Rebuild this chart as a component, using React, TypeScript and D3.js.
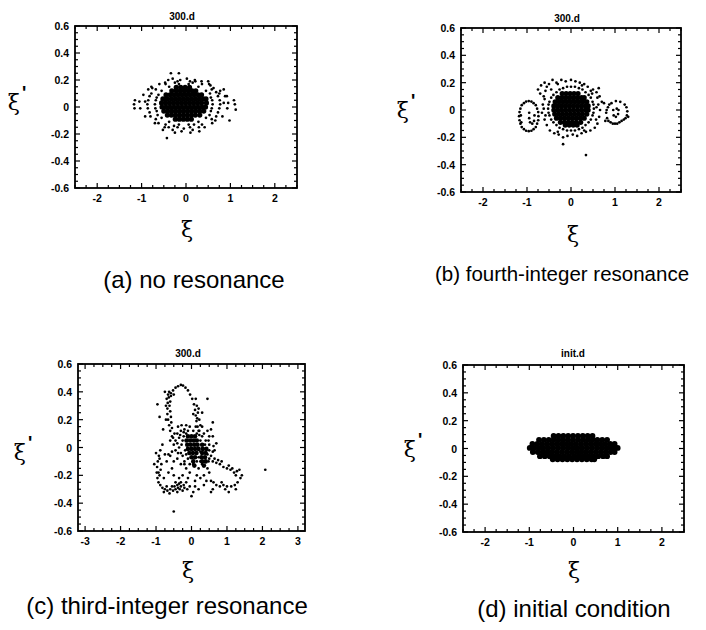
import * as d3 from "d3";

type Pt = [number, number];
type Row = [number, number[]];

// y axis (all panels)
const yMajor = [0.6, 0.4, 0.2, 0, -0.2, -0.4, -0.6];
const yTickLabels = ["0.6", "0.4", "0.2", "0", "-0.2", "-0.4", "-0.6"];
const xTicksWide = [-2, -1, 0, 1, 2];
const xTicksC = [-3, -2, -1, 0, 1, 2, 3];

const titles = ["300.d", "300.d", "300.d", "init.d"];
const captions = [
  "(a) no resonance",
  "(b) fourth-integer resonance",
  "(c) third-integer resonance",
  "(d) initial condition",
];

// (a) no resonance : dense core rows [y, xs] + ring / halo particles
const coreA: Row[] = [
  [0.145, [-0.22, -0.12, -0.02, 0.08]],
  [0.12, [-0.32, -0.22, -0.13, -0.04, 0.05, 0.14, 0.22]],
  [0.09, [-0.45, -0.36, -0.27, -0.18, -0.09, 0.0, 0.09, 0.18, 0.27, 0.35]],
  [0.06, [-0.52, -0.43, -0.33, -0.24, -0.15, -0.06, 0.03, 0.12, 0.21, 0.3, 0.39, 0.45]],
  [0.03, [-0.55, -0.46, -0.37, -0.28, -0.19, -0.1, -0.01, 0.08, 0.17, 0.26, 0.35, 0.46]],
  [0.0, [-0.54, -0.45, -0.36, -0.27, -0.18, -0.09, 0.0, 0.09, 0.18, 0.27, 0.36, 0.44]],
  [-0.03, [-0.5, -0.41, -0.32, -0.23, -0.14, -0.05, 0.04, 0.13, 0.22, 0.31, 0.4]],
  [-0.06, [-0.42, -0.33, -0.24, -0.15, -0.06, 0.03, 0.12, 0.21, 0.31]],
  [-0.09, [-0.24, -0.15, -0.06, 0.03, 0.12]],
];
const haloA: Pt[] = [
  [0.6, 0.02], [0.56, 0.07], [0.45, 0.12], [0.28, 0.15], [0.06, 0.17], [-0.16, 0.17], [-0.38, 0.15], [-0.55, 0.12],
  [-0.66, 0.07], [-0.7, 0.02], [-0.66, -0.03], [-0.55, -0.08], [-0.38, -0.11], [-0.16, -0.13], [0.06, -0.13],
  [0.28, -0.11], [0.45, -0.08], [0.56, -0.03], [0.59, 0.05], [-0.68, 0.05], [-0.69, -0.01], [0.58, -0.01],
  [0.77, 0.02], [0.72, 0.08], [0.58, 0.13], [0.36, 0.17], [0.09, 0.19], [-0.19, 0.19], [-0.46, 0.17], [-0.68, 0.13],
  [-0.82, 0.08], [-0.87, 0.02], [-0.82, -0.04], [-0.68, -0.09], [-0.46, -0.13], [-0.19, -0.15], [0.09, -0.15],
  [0.36, -0.13], [0.58, -0.09], [0.72, -0.04], [0.76, 0.05], [-0.85, 0.05], [-0.86, -0.01], [0.75, -0.01],
  [0.95, 0.03], [0.92, 0.08], [0.77, 0.12], [0.52, 0.17], [0.21, 0.19], [-0.13, 0.2], [-0.47, 0.18], [-0.76, 0.14],
  [-0.96, 0.09], [-1.05, 0.04], [-1.03, -0.01], [-0.92, -0.07], [-0.7, -0.12], [-0.39, -0.15], [-0.05, -0.16],
  [0.29, -0.15], [0.59, -0.12], [0.82, -0.07], [0.93, -0.01],
  [1.08, 0.05], [1.1, 0.02], [1.12, -0.02], [0.98, -0.1], [-1.17, 0.02], [-1.15, 0.05], [-1.16, -0.01],
  [-0.34, 0.25], [-0.16, 0.25], [-0.43, -0.23], [0.3, -0.18], [0.1, -0.19], [-0.25, -0.19], [0.55, 0.16],
  [0.75, 0.1], [0.85, 0.13], [-0.6, 0.17], [-0.85, 0.13], [0.02, 0.21], [-0.3, 0.21], [0.2, 0.2],
  [-0.62, -0.12], [-0.48, -0.15], [-0.3, -0.17], [-0.1, -0.18], [0.15, -0.17], [0.42, -0.15], [0.66, -0.1],
  [-0.78, 0.15], [-0.4, 0.2], [0.35, 0.19], [0.62, 0.14], [0.88, 0.08], [-0.52, -0.17], [0.5, 0.19],
  [-0.62, 0.09], [-0.64, -0.06], [0.54, 0.1], [0.53, -0.06], [-0.78, 0.1], [-0.8, -0.07], [0.68, 0.11],
  [0.68, -0.07], [-0.25, 0.18], [0.15, 0.18], [-0.27, -0.14], [0.18, -0.13], [-0.92, 0.04], [0.85, 0.03],
];

// (b) fourth-integer resonance
const coreB: Row[] = [
  [0.12, [-0.2, -0.11, -0.02, 0.07, 0.16]],
  [0.09, [-0.3, -0.21, -0.12, -0.03, 0.06, 0.15, 0.24, 0.3]],
  [0.06, [-0.36, -0.27, -0.18, -0.09, 0.0, 0.09, 0.18, 0.27, 0.36]],
  [0.03, [-0.39, -0.3, -0.21, -0.12, -0.03, 0.06, 0.15, 0.24, 0.33, 0.39]],
  [0.0, [-0.39, -0.3, -0.21, -0.12, -0.03, 0.06, 0.15, 0.24, 0.33, 0.39]],
  [-0.03, [-0.37, -0.28, -0.19, -0.1, -0.01, 0.08, 0.17, 0.26, 0.36]],
  [-0.06, [-0.33, -0.24, -0.15, -0.06, 0.03, 0.12, 0.21, 0.3]],
  [-0.09, [-0.24, -0.15, -0.06, 0.03, 0.12, 0.22]],
  [-0.11, [-0.13, -0.04, 0.05, 0.14]],
];
const haloB: Pt[] = [
  [0.52, 0.01], [0.49, 0.06], [0.4, 0.11], [0.26, 0.15], [0.09, 0.17], [-0.09, 0.17], [-0.26, 0.15], [-0.4, 0.11],
  [-0.49, 0.06], [-0.52, 0.01], [-0.49, -0.04], [-0.4, -0.09], [-0.26, -0.13], [-0.09, -0.15], [0.09, -0.15],
  [0.26, -0.13], [0.4, -0.09], [0.49, -0.04], [0.51, 0.04], [0.45, 0.09], [0.33, 0.13], [0.18, 0.16], [0.0, 0.17],
  [-0.18, 0.16], [-0.33, 0.13], [-0.45, 0.09], [-0.51, 0.04], [-0.51, -0.02], [-0.45, -0.07], [-0.33, -0.11],
  [-0.18, -0.14], [0.0, -0.15], [0.18, -0.14], [0.33, -0.11], [0.45, -0.07], [0.51, -0.02],
  [0.62, 0.04], [0.6, 0.09], [-0.6, 0.08], [-0.62, 0.01], [0.45, 0.14], [-0.45, 0.15],
  [-0.75, 0.15], [-0.68, 0.18], [-0.6, 0.2], [-0.5, 0.19], [-0.42, 0.22], [-0.33, 0.2], [-0.22, 0.22],
  [-0.12, 0.21], [0.0, 0.22], [0.1, 0.21], [0.2, 0.2], [0.3, 0.19], [0.38, 0.17], [0.5, 0.15], [0.58, 0.13],
  [0.65, 0.1], [0.7, 0.06], [-0.62, 0.1], [-0.64, 0.04], [-0.66, -0.02], [-0.6, -0.07], [-0.55, -0.11],
  [-0.48, -0.15], [-0.38, -0.17], [-0.28, -0.18], [-0.18, -0.2], [-0.08, -0.19], [0.04, -0.18], [0.14, -0.19],
  [0.24, -0.17], [0.34, -0.16], [0.44, -0.15], [0.54, -0.13], [0.6, -0.1], [0.64, -0.05], [0.66, 0.0],
  [-0.18, -0.25], [0.34, -0.33], [0.58, 0.02], [-0.58, 0.14], [0.63, 0.16], [-0.7, 0.12],
  [-0.55, 0.17], [-0.3, 0.19], [0.25, 0.18], [0.48, 0.12], [-0.58, -0.04], [0.57, -0.07], [-0.3, -0.16], [0.3, -0.15],
  // left island
  [-0.74, -0.045], [-0.77, 0.01], [-0.85, 0.05], [-0.96, 0.065], [-1.07, 0.05], [-1.15, 0.01], [-1.18, -0.045],
  [-1.15, -0.1], [-1.07, -0.14], [-0.96, -0.155], [-0.85, -0.14], [-0.77, -0.1], [-0.745, -0.015], [-0.8, 0.035],
  [-0.9, 0.062], [-1.02, 0.062], [-1.12, 0.035], [-1.17, -0.015], [-1.17, -0.075], [-1.12, -0.125],
  [-1.02, -0.152], [-0.9, -0.152], [-0.8, -0.125], [-0.745, -0.075], [-1.14, -0.04], [-1.13, -0.09],
  [-0.95, -0.02], [-0.95, -0.06], [-0.93, -0.09], [-0.88, -0.1], [-0.84, -0.08], [-0.83, -0.04],
  // right island
  [1.22, 0.04], [1.12, 0.06], [1.02, 0.065], [0.92, 0.05], [0.84, 0.02], [0.8, -0.02], [0.82, -0.06],
  [0.9, -0.09], [1.0, -0.1], [1.1, -0.09], [1.2, -0.07], [1.27, -0.04], [1.28, -0.01], [1.26, 0.02],
  [0.87, 0.04], [0.81, 0.0], [0.85, -0.08], [0.95, -0.1], [1.05, -0.1], [1.15, -0.08], [1.24, -0.06],
  [0.96, 0.0], [0.97, -0.04], [1.02, -0.05], [1.07, -0.03], [1.08, 0.0], [1.04, 0.01],
  [0.75, 0.05], [0.78, -0.08], [1.3, -0.05],
];

// (c) third-integer resonance
const coreC: Row[] = [
  [0.08, [-0.1, 0.0, 0.1]],
  [0.05, [-0.14, -0.04, 0.06, 0.15]],
  [0.02, [-0.12, -0.02, 0.08, 0.17, 0.3]],
  [-0.01, [-0.1, 0.0, 0.1, 0.2, 0.32, 0.42]],
  [-0.04, [-0.06, 0.04, 0.14, 0.3, 0.4]],
  [-0.07, [0.0, 0.1, 0.28, 0.38]],
  [-0.1, [0.05, 0.3, 0.4]],
  [-0.13, [0.08, 0.35]],
];
const haloC: Pt[] = [
  // upper loop
  [-0.55, 0.08], [-0.6, 0.12], [-0.63, 0.16], [-0.66, 0.2], [-0.68, 0.24], [-0.68, 0.28], [-0.67, 0.32],
  [-0.64, 0.36], [-0.58, 0.39], [-0.52, 0.41], [-0.45, 0.43], [-0.38, 0.44], [-0.3, 0.45], [-0.24, 0.445],
  [-0.17, 0.43], [-0.1, 0.41], [-0.04, 0.38], [0.02, 0.35], [0.07, 0.31], [0.1, 0.27], [0.12, 0.23],
  [0.14, 0.19], [0.17, 0.15], [0.2, 0.12], [0.22, 0.09], [-0.58, 0.37], [-0.6, 0.33], [-0.62, 0.3],
  [-0.6, 0.26], [-0.58, 0.22], [-0.57, 0.18], [-0.55, 0.14], [-0.63, 0.4], [-0.7, 0.35], [0.15, 0.3],
  [0.18, 0.25], [0.22, 0.2], [0.25, 0.16], [0.2, 0.28], [0.12, 0.35], [-0.96, 0.31], [0.6, 0.18],
  [0.45, 0.35], [-0.75, 0.4], [-0.9, 0.22], [-0.8, 0.13], [-0.72, 0.3], [-0.5, 0.38], [-0.66, 0.38],
  [0.05, 0.24], [0.16, 0.21], [-0.72, 0.2], [0.3, 0.25],
  // middle band
  [-0.4, 0.1], [-0.3, 0.12], [-0.2, 0.13], [-0.1, 0.12], [0.05, 0.12], [0.15, 0.1], [0.3, 0.08], [0.4, 0.05],
  [0.5, 0.02], [-0.45, 0.05], [-0.5, 0.02], [-0.45, -0.02], [-0.35, 0.0], [-0.3, -0.04], [-0.25, 0.05],
  [-0.35, 0.07], [0.5, -0.02], [0.55, -0.06], [0.6, -0.03], [0.25, 0.05], [0.35, 0.1],
  [-0.6, 0.05], [-0.55, -0.03], [-0.65, -0.05], [-0.48, 0.1], [-0.38, 0.15], [-0.28, 0.16], [-0.15, 0.16],
  [-0.05, 0.15], [0.3, 0.15], [0.45, 0.12], [0.6, 0.08], [0.7, 0.03], [0.65, -0.02], [-0.25, -0.06],
  [-0.18, -0.02], [-0.28, 0.02], [0.5, 0.08], [0.55, 0.13], [0.05, -0.12], [0.15, -0.1], [0.2, -0.07],
  [-0.1, -0.08], [-0.2, -0.12], [-0.22, 0.08], [0.25, -0.03], [-0.15, -0.05], [0.45, -0.05],
  [-0.4, 0.03], [-0.32, 0.09], [-0.22, 0.11], [0.22, 0.12], [0.38, 0.02], [0.48, 0.05], [-0.52, 0.07],
  [-0.38, -0.04], [0.62, 0.01], [-0.15, 0.1], [0.12, 0.15], [-0.05, -0.12], [0.25, -0.1], [0.48, -0.1],
  // lower-left lobe
  [-0.82, 0.02], [-0.88, -0.02], [-0.92, -0.06], [-0.95, -0.1], [-0.97, -0.14], [-0.98, -0.18], [-0.96, -0.22],
  [-0.93, -0.25], [-0.88, -0.27], [-0.85, -0.12], [-0.87, -0.16], [-0.9, -0.2], [-1.05, -0.12], [-1.0, -0.04],
  [-0.82, -0.29], [-0.75, -0.3], [-0.68, -0.31], [-0.6, -0.3], [-0.52, -0.31], [-0.45, -0.3], [-0.38, -0.29],
  [-0.3, -0.28], [-0.22, -0.27], [-0.7, -0.28], [-0.55, -0.28], [-0.4, -0.32], [-0.62, -0.33], [-0.25, -0.31],
  [-0.7, -0.1], [-0.6, -0.06], [-0.5, -0.1], [-0.4, -0.08], [-0.3, -0.12], [-0.2, -0.1], [-0.15, -0.15],
  [-0.25, -0.2], [-0.35, -0.22], [-0.5, -0.2], [-0.65, -0.18], [-0.75, -0.05], [-0.55, -0.15], [-0.45, -0.25],
  [-0.1, -0.22], [-0.05, -0.18], [-0.15, -0.25], [-0.78, -0.22], [-0.4, -0.27], [-0.3, -0.25], [-0.2, -0.29],
  [-0.35, -0.26], [-0.9, -0.08], [-0.93, -0.18], [-0.78, -0.32], [-0.48, -0.28], [-0.33, -0.3], [-0.12, -0.3],
  // lower-right lobe
  [0.5, -0.08], [0.6, -0.1], [0.7, -0.11], [0.8, -0.12], [0.9, -0.14], [1.0, -0.15], [1.1, -0.16], [1.2, -0.18],
  [1.28, -0.17], [1.35, -0.16], [1.42, -0.2], [0.65, -0.08], [0.85, -0.1], [1.15, -0.15], [1.38, -0.22],
  [1.3, -0.25], [1.22, -0.27], [1.12, -0.28], [1.0, -0.28], [0.9, -0.27], [0.8, -0.28], [0.7, -0.27],
  [0.62, -0.25], [0.55, -0.24], [1.25, -0.3], [0.95, -0.3], [1.05, -0.32], [0.85, -0.25], [0.45, -0.15],
  [0.35, -0.2], [0.25, -0.22], [0.15, -0.2], [0.3, -0.12], [0.4, -0.1], [0.2, -0.15], [0.5, -0.18],
  [0.1, -0.28], [0.2, -0.3], [0.35, -0.27], [0.05, -0.32], [0.0, -0.35], [-0.05, -0.28],
  [0.75, -0.09], [1.05, -0.13], [1.25, -0.2], [0.6, -0.3], [0.42, -0.24], [0.1, -0.24],
  // strays
  [2.08, -0.16], [-0.5, -0.46], [0.55, -0.32],
];

// (d) initial condition : filled ellipse of particles
const coreD: Row[] = [
  [0.09, [-0.45, -0.34, -0.23, -0.12, -0.01, 0.1, 0.21, 0.32, 0.43]],
  [0.062, [-0.78, -0.67, -0.56, -0.45, -0.34, -0.23, -0.12, -0.01, 0.1, 0.21, 0.32, 0.43, 0.54, 0.65, 0.76]],
  [0.033, [-0.93, -0.82, -0.71, -0.6, -0.49, -0.38, -0.27, -0.16, -0.05, 0.06, 0.17, 0.28, 0.39, 0.5, 0.61, 0.72, 0.83, 0.93]],
  [0.004, [-0.99, -0.9, -0.79, -0.68, -0.57, -0.46, -0.35, -0.24, -0.13, -0.02, 0.09, 0.2, 0.31, 0.42, 0.53, 0.64, 0.75, 0.86, 0.95, 1.0]],
  [-0.025, [-0.92, -0.81, -0.7, -0.59, -0.48, -0.37, -0.26, -0.15, -0.04, 0.07, 0.18, 0.29, 0.4, 0.51, 0.62, 0.73, 0.84, 0.93]],
  [-0.055, [-0.76, -0.65, -0.54, -0.43, -0.32, -0.21, -0.1, 0.01, 0.12, 0.23, 0.34, 0.45, 0.56, 0.67, 0.76]],
  [-0.078, [-0.47, -0.36, -0.25, -0.14, -0.03, 0.08, 0.19, 0.3, 0.41, 0.47]],
];
const haloD: Pt[] = [];

const rowsToPts = (rows: Row[]): Pt[] => rows.flatMap(([yv, xs]) => xs.map((xv) => [xv, yv] as Pt));

const layout = [
  { left: 75, right: 297, top: 26, bottom: 188, xDomain: [-2.5, 2.5], xTicks: xTicksWide, titleX: 182, titleY: 20,
    yLabX: 17, yLabY: 110, xLabX: 187, xLabY: 237, capX: 194, capY: 288, capSize: 24, coreR: 2.6, core: coreA, halo: haloA },
  { left: 461, right: 681, top: 28, bottom: 192, xDomain: [-2.5, 2.5], xTicks: xTicksWide, titleX: 567, titleY: 22,
    yLabX: 406, yLabY: 118, xLabX: 573, xLabY: 242, capX: 562, capY: 281, capSize: 20.5, coreR: 2.6, core: coreB, halo: haloB },
  { left: 78, right: 305, top: 364, bottom: 531, xDomain: [-3.2, 3.2], xTicks: xTicksC, titleX: 188, titleY: 357,
    yLabX: 23, yLabY: 460, xLabX: 188, xLabY: 578, capX: 167, capY: 614, capSize: 24, coreR: 2.3, core: coreC, halo: haloC },
  { left: 463, right: 684, top: 365, bottom: 532, xDomain: [-2.5, 2.5], xTicks: xTicksWide, titleX: 573, titleY: 357,
    yLabX: 413, yLabY: 457, xLabX: 574, xLabY: 578, capX: 574, capY: 617, capSize: 24, coreR: 2.9, core: coreD, halo: haloD },
];

const sans = "'Liberation Sans', Arial, sans-serif";
const greek = "'DejaVu Serif', serif";

function Panel({ i }: { i: number }) {
  const p = layout[i];
  const x = d3.scaleLinear(p.xDomain, [p.left, p.right]);
  const y = d3.scaleLinear([-0.6, 0.6], [p.bottom, p.top]);
  const xMinor = d3.range(Math.ceil(p.xDomain[0] * 4) / 4, p.xDomain[1] + 1e-9, 0.25)
    .filter((v) => Math.abs(v - Math.round(v)) > 1e-6);
  const yMinor = d3.range(-0.6, 0.6001, 0.05)
    .filter((v) => Math.abs(v * 5 - Math.round(v * 5)) > 1e-6);
  const core = rowsToPts(p.core);
  return (
    <g>
      <text x={p.titleX} y={p.titleY} textAnchor="middle" fontFamily={sans} fontWeight="bold" fontSize={10}>
        {titles[i]}
      </text>
      {/* particles */}
      <g fill="#000">
        {core.map((d, k) => (
          <circle key={"c" + k} cx={x(d[0])} cy={y(d[1])} r={p.coreR} />
        ))}
        {p.halo.map((d, k) => (
          <circle key={"h" + k} cx={x(d[0])} cy={y(d[1])} r={1.35} />
        ))}
      </g>
      {/* frame */}
      <rect x={p.left} y={p.top} width={p.right - p.left} height={p.bottom - p.top}
        fill="none" stroke="#000" strokeWidth={1.8} />
      <g stroke="#000" strokeWidth={1.2}>
        {p.xTicks.map((v) => (
          <g key={"xM" + v}>
            <line x1={x(v)} x2={x(v)} y1={p.bottom} y2={p.bottom - 5} />
            <line x1={x(v)} x2={x(v)} y1={p.top} y2={p.top + 5} />
          </g>
        ))}
        {xMinor.map((v) => (
          <g key={"xm" + v}>
            <line x1={x(v)} x2={x(v)} y1={p.bottom} y2={p.bottom - 3} />
            <line x1={x(v)} x2={x(v)} y1={p.top} y2={p.top + 3} />
          </g>
        ))}
        {yMajor.map((v) => (
          <g key={"yM" + v}>
            <line x1={p.left} x2={p.left + 5} y1={y(v)} y2={y(v)} />
            <line x1={p.right} x2={p.right - 5} y1={y(v)} y2={y(v)} />
          </g>
        ))}
        {yMinor.map((v) => (
          <g key={"ym" + v}>
            <line x1={p.left} x2={p.left + 3} y1={y(v)} y2={y(v)} />
            <line x1={p.right} x2={p.right - 3} y1={y(v)} y2={y(v)} />
          </g>
        ))}
      </g>
      <g fontFamily={sans} fontWeight="bold" fontSize={10.5} fill="#000">
        {yMajor.map((v, k) => (
          <text key={"yl" + v} x={p.left - 6} y={y(v) + 4} textAnchor="end">{yTickLabels[k]}</text>
        ))}
        {p.xTicks.map((v) => (
          <text key={"xl" + v} x={x(v)} y={p.bottom + 14} textAnchor="middle">{String(v)}</text>
        ))}
      </g>
      <text x={p.yLabX} y={p.yLabY} textAnchor="middle" fontFamily={greek} fontSize={22}>
        ξ
        <tspan dx={2} dy={-11} fontFamily={sans} fontWeight="bold" fontSize={18}>'</tspan>
      </text>
      <text x={p.xLabX} y={p.xLabY} textAnchor="middle" fontFamily={greek} fontSize={22}>ξ</text>
      <text x={p.capX} y={p.capY} textAnchor="middle" fontFamily={sans} fontSize={p.capSize}>
        {captions[i]}
      </text>
    </g>
  );
}

export default function App() {
  return (
    <svg width={706} height={630} style={{ position: "absolute", left: 0, top: 0, background: "#fff" }}>
      {layout.map((_, i) => (
        <Panel key={i} i={i} />
      ))}
    </svg>
  );
}
